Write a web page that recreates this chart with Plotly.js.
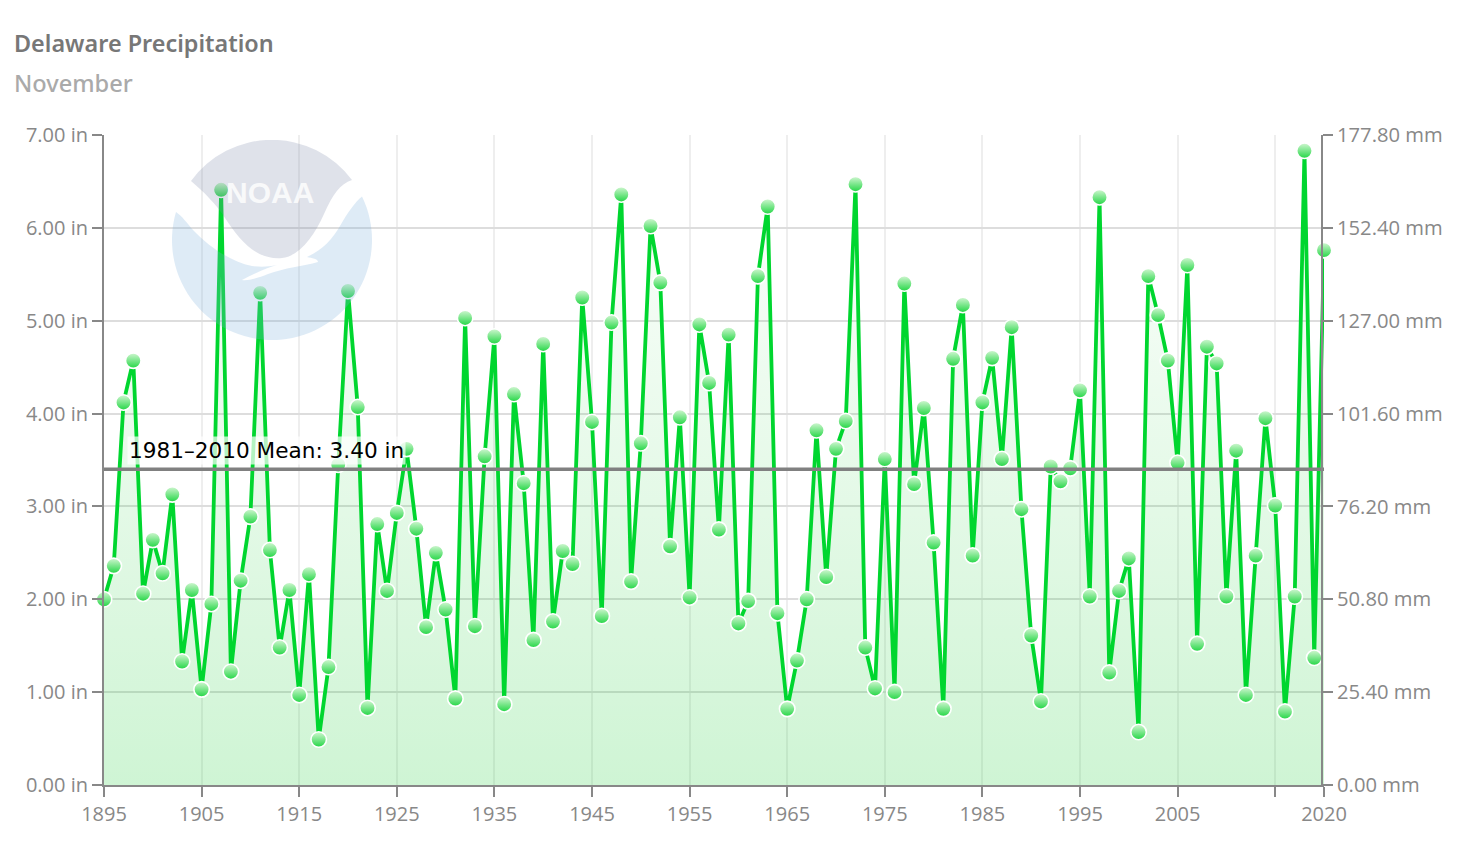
<!DOCTYPE html>
<html>
<head>
<meta charset="utf-8">
<script src="https://cdn.plot.ly/plotly-3.0.1.min.js"></script>
<style>html,body{margin:0;padding:0;background:#fff}#chart{width:1470px;height:852px}</style>
</head>
<body>
<div id="chart"></div>
<script>
const years = [1895,1896,1897,1898,1899,1900,1901,1902,1903,1904,1905,1906,1907,1908,1909,1910,1911,1912,1913,1914,1915,1916,1917,1918,1919,1920,1921,1922,1923,1924,1925,1926,1927,1928,1929,1930,1931,1932,1933,1934,1935,1936,1937,1938,1939,1940,1941,1942,1943,1944,1945,1946,1947,1948,1949,1950,1951,1952,1953,1954,1955,1956,1957,1958,1959,1960,1961,1962,1963,1964,1965,1966,1967,1968,1969,1970,1971,1972,1973,1974,1975,1976,1977,1978,1979,1980,1981,1982,1983,1984,1985,1986,1987,1988,1989,1990,1991,1992,1993,1994,1995,1996,1997,1998,1999,2000,2001,2002,2003,2004,2005,2006,2007,2008,2009,2010,2011,2012,2013,2014,2015,2016,2017,2018,2019,2020];
const precipIn = [2.00,2.36,4.12,4.57,2.06,2.64,2.28,3.13,1.33,2.10,1.03,1.95,6.41,1.22,2.20,2.89,5.30,2.53,1.48,2.10,0.97,2.27,0.49,1.27,3.45,5.32,4.07,0.83,2.81,2.09,2.93,3.62,2.76,1.70,2.50,1.89,0.93,5.03,1.71,3.54,4.83,0.87,4.21,3.25,1.56,4.75,1.76,2.52,2.38,5.25,3.91,1.82,4.98,6.36,2.19,3.68,6.02,5.41,2.57,3.96,2.02,4.96,4.33,2.75,4.85,1.74,1.98,5.48,6.23,1.85,0.82,1.34,2.00,3.82,2.24,3.62,3.92,6.47,1.48,1.04,3.51,1.00,5.40,3.24,4.06,2.61,0.82,4.59,5.17,2.47,4.12,4.60,3.51,4.93,2.97,1.61,0.90,3.43,3.27,3.41,4.25,2.03,6.33,1.21,2.09,2.44,0.57,5.48,5.06,4.57,3.47,5.60,1.52,4.72,4.54,2.03,3.60,0.97,2.47,3.95,3.01,0.79,2.03,6.83,1.37,5.76];
const meanYears = [1895,2020];
const meanMm = [86.36,86.36];
const xTickVals = [1895,1905,1915,1925,1935,1945,1955,1965,1975,1985,1995,2005,2015,2020];
const xTickText = ['1895','1905','1915','1925','1935','1945','1955','1965','1975','1985','1995','2005','','2020'];
const inTickVals = [0,1,2,3,4,5,6,7];
const inTickText = ['0.00 in','1.00 in','2.00 in','3.00 in','4.00 in','5.00 in','6.00 in','7.00 in'];
const mmTickVals = [0,25.4,50.8,76.2,101.6,127,152.4,177.8];
const mmTickText = ['0.00 mm','25.40 mm','50.80 mm','76.20 mm','101.60 mm','127.00 mm','152.40 mm','177.80 mm'];

const logoSvg = `<svg xmlns="http://www.w3.org/2000/svg" viewBox="0 0 200 200" width="200" height="200">
<path fill="rgb(127,139,171)" fill-opacity="0.25" d="M19 41 A100 100 0 0 1 180 40 C168 44 161 54 152 74 C142 96 128 116 110 118 C86 120 70 104 53 78 C44 64 32 52 19 41 Z"/>
<path fill="rgb(123,175,219)" fill-opacity="0.25" d="M4 72 A100 100 0 1 0 190 56.4 C183 62 176 72 168 86 C160 100 150 110 135 117 C140 118 146 119 146 122 C132 126 112 128 96 134 C86 138 76 141 70 140 C84 133 96 127 105 125 C96 127 88 127 80 126 C60 122 38 108 21 90 C15 83 10 76 4 72 Z"/>
</svg>`;

const traces = [
  {
    x: years, y: precipIn, type: 'scatter', mode: 'lines+markers', name: 'Precipitation',
    yaxis: 'y', cliponaxis: false, fill: 'tozeroy',
    fillgradient: {type: 'vertical', start: 0, stop: 7,
      colorscale: [[0,'rgba(0,200,30,0.19)'],[1,'rgba(0,200,30,0)']]},
    line: {color: '#00d62f', width: 3.8},
    marker: {size: 15.5, color: '#d2f7d2', line: {color: '#ffffff', width: 1.6},
      gradient: {type: 'vertical', color: '#22d644'}},
    hoverinfo: 'x+y'
  },
  {
    x: meanYears, y: meanMm, type: 'scatter', mode: 'lines', name: 'Mean',
    yaxis: 'y2', cliponaxis: true, line: {color: '#808080', width: 3.6}, hoverinfo: 'skip'
  }
];

const axisStyle = {
  showline: true, linecolor: '#888888', linewidth: 2,
  ticks: 'outside', ticklen: 10, tickwidth: 2, tickcolor: '#888888',
  tickfont: {family: '"Open Sans", sans-serif', size: 20, color: '#888888'},
  zeroline: false
};

const layout = {
  width: 1470, height: 852, paper_bgcolor: '#ffffff', plot_bgcolor: '#ffffff',
  margin: {l: 104, r: 146, t: 135, b: 67, autoexpand: false},
  showlegend: false,
  title: {text: 'Delaware Precipitation', xref: 'container', yref: 'container',
    x: 14/1470, xanchor: 'left', y: 1-44/852, yanchor: 'middle',
    font: {family: '"Noto Sans", sans-serif', size: 23.4, color: '#777777', weight: 600}},
  xaxis: Object.assign({}, axisStyle, {
    range: [1895,2020], tickmode: 'array', tickvals: xTickVals, ticktext: xTickText,
    showgrid: true, gridcolor: '#eeeeee', gridwidth: 2, anchor: 'y'
  }),
  yaxis: Object.assign({}, axisStyle, {
    range: [0,7], tickmode: 'array', tickvals: inTickVals, ticktext: inTickText,
    showgrid: true, gridcolor: '#dddddd', gridwidth: 2
  }),
  yaxis2: Object.assign({}, axisStyle, {
    range: [0,177.8], tickmode: 'array', tickvals: mmTickVals, ticktext: mmTickText,
    overlaying: 'y', side: 'right', showgrid: false, anchor: 'free', position: 1218/1220,
    tickfont: {family: '"Open Sans", sans-serif', size: 20.2, color: '#888888'}
  }),
  images: [{
    source: 'data:image/svg+xml;charset=utf-8,' + encodeURIComponent(logoSvg),
    xref: 'paper', yref: 'paper', x: (172-104)/1220, y: (785-140)/650,
    sizex: 200/1220, sizey: 200/650, sizing: 'stretch',
    xanchor: 'left', yanchor: 'top', layer: 'above'
  }],
  annotations: [
    {text: 'November', xref: 'paper', yref: 'paper', x: (12-104)/1220, y: (785-83)/650,
     xanchor: 'left', yanchor: 'middle', showarrow: false,
     font: {family: '"Noto Sans", sans-serif', size: 23.6, color: '#aaaaaa', weight: 500}},
    {text: '1981–2010 Mean: 3.40 in', xref: 'paper', yref: 'paper', x: (266.5-104)/1220, y: (785-450)/650,
     xanchor: 'center', yanchor: 'middle', showarrow: false, bgcolor: 'rgba(255,255,255,0.7)',
     font: {family: '"DejaVu Sans", sans-serif', size: 21.6, color: '#000000'}},
    {text: '<b>NOAA</b>', xref: 'paper', yref: 'paper', x: (270-104)/1220, y: (785-192)/650,
     xanchor: 'center', yanchor: 'middle', showarrow: false, opacity: 0.8,
     font: {family: '"Liberation Sans", sans-serif', size: 30, color: '#ffffff'}}
  ]
};

Plotly.newPlot('chart', traces, layout, {displayModeBar: false, responsive: false});
</script>
</body>
</html>
